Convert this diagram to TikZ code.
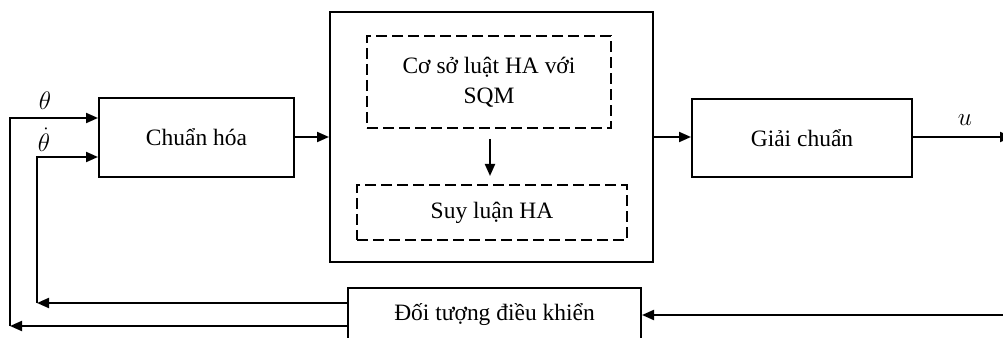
\RequirePackage{fix-cm}
\documentclass[tikz,border=0pt]{standalone}
\usepackage{fontspec}
\setmainfont{Liberation Serif}
\usetikzlibrary{arrows.meta}
\begin{document}
\begin{tikzpicture}[x=0.75pt,y=-0.75pt,
  every node/.style={font=\fontsize{17.6}{22.5}\selectfont, inner sep=0pt},
  blk/.style={draw, line width=1.5pt, align=center},
  dbox/.style={draw, line width=1.5pt, dash pattern=on 8pt off 4pt, align=center},
  arr/.style={line width=1.5pt, -{Triangle[length=9pt,width=7.5pt]}},
  lbl/.style={font=\fontsize{19}{22}\selectfont}]
\useasboundingbox (0,0) rectangle (1003,338);
\node[blk, minimum width=146.25pt, minimum height=59.25pt] (chuan) at (196.5,137.5) {Chuẩn hóa};
\node[blk, minimum width=242.25pt, minimum height=187.5pt] (big) at (491.5,137) {};
\node[dbox, minimum width=183pt, minimum height=69pt] (rule) at (489,82) {Cơ sở luật HA với\\SQM};
\node[dbox, minimum width=202.5pt, minimum height=41.25pt] (inf) at (492,212.5) {Suy luận HA};
\node[blk, minimum width=165pt, minimum height=58.5pt] (giai) at (802,138) {Giải chuẩn};
\node[blk, minimum width=219.75pt, minimum height=40.5pt] (obj) at (494.5,315) {Đối tượng điều khiển};
% coordinates
\coordinate (c1) at (10,326);
\coordinate (c2) at (37,303);
\coordinate (uend) at (1012,137);
\coordinate (yin) at (1010,315);
% inputs
\draw[arr] (c1) |- (chuan.west |- 0,118);
\draw[arr] (c2) |- (chuan.west |- 0,157);
% feedback
\draw[arr] (obj.west |- c2) -- (c2);
\draw[arr] (obj.west |- c1) -- (c1);
% forward
\draw[arr] (chuan.east |- 0,137) -- (big.west |- 0,137);
\draw[arr, shorten <=7.5pt, shorten >=6pt] (rule.south -| 490,0) -- (inf.north -| 490,0);
\draw[arr] (big.east |- 0,137) -- (giai.west |- 0,137);
\draw[arr] (giai.east |- 0,137) -- (uend);
\draw[arr] (yin) -- (obj.east);
% labels
\node[lbl] (lt) at (45,101) {$\theta$};
\node[lbl] (ltd) at (44,140) {$\dot{\theta}$};
\node[lbl] (lu) at (965,120) {$u$};
\end{tikzpicture}
\end{document}
